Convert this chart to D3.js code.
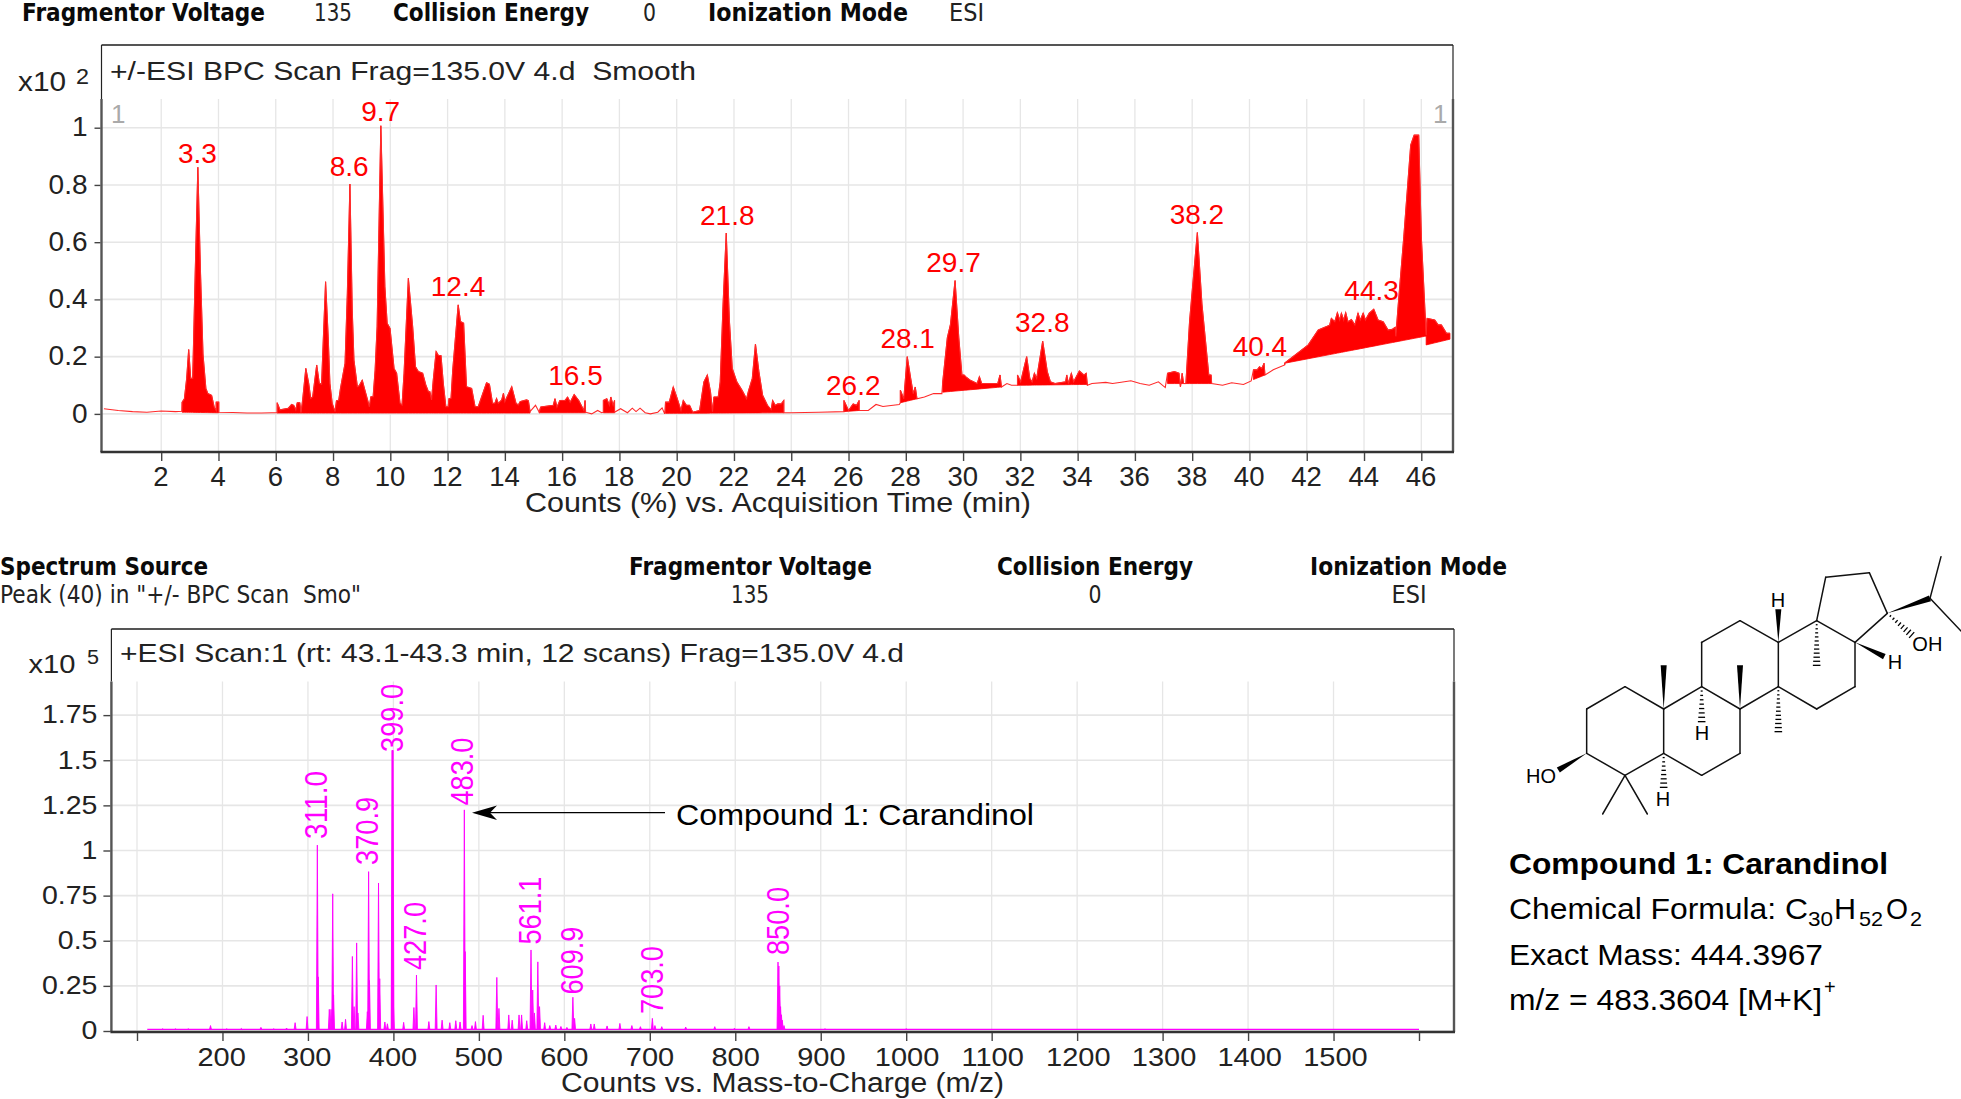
<!DOCTYPE html>
<html><head><meta charset="utf-8">
<style>html,body{margin:0;padding:0;background:#fff;overflow:hidden}svg{display:block}text{white-space:pre}</style>
<script src="https://cdn.jsdelivr.net/npm/d3@7"></script></head><body><svg id="c" width="1961" height="1099"></svg>
<script>
// ---------- DATA ----------
const bpcTicks=[2,4,6,8,10,12,14,16,18,20,22,24,26,28,30,32,34,36,38,40,42,44,46];
const bpcYTicks=[0,0.2,0.4,0.6,0.8,1];
// chromatogram: [minutes, counts x10^2]
const bpcTrace=[[0,.018],[.5,.012],[1,.008],[1.5,.006],[2,.01],[2.5,.008],[2.72,.009],
[2.73,.041],[2.81,.053],[2.89,.124],[2.96,.225],[3.03,.124],[3.1,.124],[3.19,.5],[3.28,.862],[3.37,.5],[3.46,.207],[3.56,.089],[3.63,.071],[3.76,.065],[3.85,.024],[3.92,.012],[3.92,.041],[4.01,.041],[4.01,.006],[4.5,.005],[5,.003],[5.5,.003],[5.85,.004],
[6.05,.004],[6.05,.039],[6.15,.014],[6.44,.02],[6.55,.033],[6.63,.03],[6.7,.014],[6.75,.039],[6.84,.039],[6.88,.004],[6.94,.049],[7.05,.159],[7.15,.107],[7.22,.054],[7.29,.06],[7.43,.171],[7.52,.107],[7.6,.104],[7.74,.462],[7.83,.27],[7.89,.107],[7.97,.037],[8.07,.008],[8.12,.046],[8.2,.048],[8.26,.089],[8.42,.177],[8.5,.421],[8.59,.803],[8.67,.363],[8.73,.188],[8.85,.095],[8.91,.098],[9.02,.118],[9.11,.084],[9.27,.025],[9.32,.06],[9.4,.06],[9.47,.153],[9.54,.305],[9.67,1.007],[9.81,.445],[9.89,.317],[9.99,.299],[10.13,.159],[10.22,.142],[10.34,.037],[10.41,.031],[10.48,.142],[10.63,.474],[10.78,.305],[10.88,.165],[10.98,.148],[11.13,.142],[11.24,.101],[11.33,.078],[11.38,.078],[11.44,.049],[11.5,.118],[11.6,.218],[11.68,.204],[11.77,.204],[11.85,.107],[11.94,.025],[12.02,.025],[12.05,.054],[12.12,.054],[12.18,.153],[12.37,.381],[12.45,.323],[12.56,.317],[12.66,.095],[12.84,.089],[12.96,.025],[13.07,.025],[13.19,.06],[13.36,.109],[13.46,.104],[13.57,.037],[13.65,.037],[13.71,.054],[13.77,.037],[13.89,.049],[13.95,.072],[14,.043],[14.24,.095],[14.39,.037],[14.47,.031],[14.53,.043],[14.64,.046],[14.76,.049],[14.82,.046],[14.88,.008],
[15.07,.03],[15.2,.006],[15.25,.024],[15.69,.03],[15.75,.053],[15.82,.024],[15.92,.047],[16.1,.047],[16.19,.059],[16.28,.041],[16.42,.068],[16.58,.047],[16.76,.012],[16.8,.047],[16.82,.006],
[17.03,0],[17.24,.012],[17.38,.004],[17.44,.006],[17.44,.047],[17.56,.053],[17.65,.03],[17.7,.059],[17.78,.03],[17.83,.047],[17.83,.006],
[18.04,.018],[18.28,.004],[18.45,.02],[18.58,.008],[18.72,.02],[18.9,.004],[19.08,0],[19.34,.006],[19.49,.021],[19.58,0],
[19.61,.041],[19.74,.041],[19.88,.094],[20.02,.053],[20.15,.012],[20.23,.047],[20.34,.03],[20.45,.03],[20.56,.006],[20.8,.012],[20.95,.112],[21.07,.136],[21.18,.077],[21.25,.008],[21.3,.059],[21.45,.059],[21.52,.112],[21.62,.384],[21.73,.632],[21.84,.325],[21.94,.159],[22.1,.112],[22.28,.083],[22.44,.053],[22.51,.081],[22.64,.124],[22.75,.244],[22.87,.148],[23,.065],[23.17,.03],[23.3,.015],[23.35,.047],[23.44,.03],[23.53,.035],[23.65,.035],[23.74,.047],[23.74,.004],
[24,.004],[24.96,.006],[25.84,.008],[25.84,.047],[26,.012],[26.16,.035],[26.28,.03],[26.37,.047],[26.37,.012],[26.69,.012],[26.96,.033],[27.2,.026],[27.77,.033],[27.81,.039],
[27.81,.083],[27.93,.053],[28.05,.2],[28.17,.124],[28.26,.071],[28.33,.094],[28.39,.053],[28.65,.059],[28.97,.071],[29.26,.071],
[29.29,.112],[29.45,.266],[29.56,.313],[29.72,.466],[29.85,.266],[29.96,.136],[30.04,.136],[30.09,.13],[30.25,.118],[30.49,.106],[30.57,.13],[30.65,.106],[31.21,.106],[31.29,.136],[31.34,.094],[31.53,.106],[31.69,.1],[31.9,.1],
[31.9,.136],[32.01,.112],[32.22,.2],[32.33,.124],[32.41,.112],[32.49,.142],[32.57,.124],[32.78,.254],[32.94,.148],[33.05,.112],[33.21,.106],[33.58,.112],[33.62,.136],[33.68,.106],[33.78,.142],[33.86,.112],[34.06,.15],[34.22,.136],[34.3,.142],[34.34,.1],
[34.5,.106],[34.98,.11],[35.22,.106],[35.46,.11],[35.86,.116],[36.18,.106],[36.5,.1],[36.82,.112],[37.06,.092],
[37.14,.142],[37.38,.148],[37.54,.142],[37.59,.094],[37.65,.142],[37.7,.106],[37.78,.106],[37.91,.325],[38.18,.634],[38.34,.384],[38.58,.136],[38.66,.136],[38.68,.106],
[39.06,.1],[39.38,.109],[39.79,.103],[40.06,.115],[40.14,.154],[40.27,.154],[40.35,.165],[40.43,.159],[40.51,.177],[40.54,.136],[40.83,.154],[41.23,.171],
[41.23,.178],[42.05,.241],[42.4,.293],[42.8,.31],[42.86,.334],[42.98,.322],[43.07,.354],[43.15,.328],[43.21,.352],[43.29,.328],[43.36,.354],[43.44,.322],[43.56,.33],[43.68,.311],[43.79,.352],[43.87,.328],[43.97,.352],[44.05,.328],[44.18,.352],[44.34,.366],[44.49,.328],[44.67,.322],[44.84,.293],[44.99,.296],[45.09,.303],[45.11,.271],[45.19,.375],[45.39,.62],[45.63,.939],[45.75,.974],[45.91,.974],[46,.62],[46.12,.375],[46.17,.276],[46.2,.334],[46.47,.328],[46.59,.311],[46.7,.311],[46.88,.282],[47,.282]];
// integrated peak regions: start, end, baseline at start, baseline at end
const fillStart=[2.73,6.05,15.2,17.44,19.61,25.84,27.81,29.29,31.9,37.14,40.14,41.23,46.17];
const fillEnd=[4.01,14.88,16.82,17.83,23.74,26.37,28.39,31.34,34.34,38.68,40.54,46.17,47];
const fillBase0=[.006,.003,.004,.004,.002,.008,.039,.076,.1,.106,.12,.177,.241];
const fillBase1=[.004,.003,.004,.004,.004,.012,.053,.094,.103,.106,.136,.272,.261];
const bpcLabels=["3.3","8.6","9.7","12.4","16.5","21.8","26.2","28.1","29.7","32.8","38.2","40.4","44.3"];
const bpcLabelLevel=[.877,.832,1.022,.412,.101,.66,.067,.23,.496,.286,.664,.202,.398];

const msTicks=[100,200,300,400,500,600,700,800,900,1000,1100,1200,1300,1400,1500,1600];
const msYTicks=[0,.25,.5,.75,1,1.25,1.5,1.75];
const stickMz=[130,145,160,186,205,222,245,260,275,285,299,311,312,325,327,329,330,340,344,352,354,357,358.5,369.5,371,372,382.6,384,390,393,398.5,399,399.5,400,412,424,427,441.5,450,457,466,473,478,483,484,492,496,505,521,523.5,535,539,547,550,556,561,563,565,569,571,577,583,590,596,603,610,612,631,635,650,665,679,689,703,706,714,742,776,799,816,850,851,852,853,854,855,857,905,1000];
const stickInt=[.012,.012,.012,.03,.012,.014,.02,.012,.016,.046,.08,1.03,.3,.12,.12,.76,.2,.05,.065,.413,.135,.488,.1,.107,.883,.28,.82,.29,.05,.04,1.555,1.555,1.555,.15,.048,.13,.31,.052,.255,.06,.046,.057,.05,1.225,.44,.03,.052,.087,.297,.125,.089,.06,.089,.089,.057,.449,.227,.1,.383,.135,.046,.03,.033,.025,.02,.187,.07,.039,.039,.028,.042,.03,.024,.07,.03,.024,.022,.024,.015,.024,.382,.36,.25,.135,.09,.06,.03,.012,.012];
const msLabels=["311.0","370.9","399.0","427.0","483.0","561.1","609.9","703.0","850.0"];
const msLabelLevel=[1.064,.92,1.546,.338,1.249,.479,.202,.094,.421];
const msLabelMz=[310,369,398,426,481,559.5,609,703,850];
const msBaseRange=[112,1600];
const msBaseLevel=.009;

// skeletal formula, atom positions in drawing units
const atoms={a:[320,640],b:[320,507],c:[435,440],d:[551,507],e:[551,640],f:[435,706],g:[665,706],h:[780,640],i:[780,507],j:[665,440],k:[895,440],l:[895,307],m:[780,242],n:[665,307],o:[1010,242],p:[1125,307],q:[1125,440],r:[1010,507],s:[1222,220],t:[1168,98],u:[1037,112],v:[1350,175],me1:[368,822],me2:[502,822],me3:[1383,50],me4:[1443,273],
 w1:[235,690],w2:[551,376],w3:[780,376],w4:[895,208],w5:[1213,350],h1:[665,545],h2:[551,742],h3:[895,575],h4:[1010,376],h5:[1295,285]};
const plainBonds=["ab","bc","cd","de","ef","fa","eg","gh","hi","ij","jd","jn","nm","ml","lk","ki","lo","op","pq","qr","rk","ps","st","tu","uo"];
const plainExtra=[["f","me1"],["f","me2"],["v","me3"],["v","me4"]];
const wedgeBonds=[["a","w1"],["d","w2"],["i","w3"],["l","w4"],["p","w5"],["s","v"]];
const hashBonds=[["j","h1"],["e","h2"],["k","h3"],["o","h4"],["s","h5"]];
const atomLabels=[["HO",183,730],["H",666,600],["H",549,798],["H",894,202],["H",1245,388],["OH",1342,332]];

// ---------- DRAW ----------
const svg=d3.select("#c");
const SANS="'Liberation Sans',Arial,sans-serif", HEAD="'DejaVu Sans',sans-serif";
function T(g,x,y,s,o={}){
 const t=g.append("text").attr("x",x).attr("y",y).text(s)
  .attr("font-family",o.font||SANS).attr("font-size",o.size||26).attr("fill",o.fill||"#222")
  .attr("text-anchor",o.anchor||"start").attr("font-weight",o.weight||"normal");
 if(o.len){t.attr("textLength",o.len).attr("lengthAdjust","spacingAndGlyphs");}
 return t;
}
// headers
const hdr=svg.append("g");
const H=(x,y,s,len,w,anchor)=>T(hdr,x,y,s,{font:HEAD,size:25,weight:w?"bold":"normal",fill:w?"#0a0a0a":"#222",len,anchor});
H(22,21,"Fragmentor Voltage",243,1);H(314,21,"135",38,0);H(393,21,"Collision Energy",196,1);H(643,21,"0",13,0);H(708,21,"Ionization Mode",200,1);H(949,21,"ESI",35,0);
H(0,575,"Spectrum Source",208,1);H(0,603,'Peak (40) in "+/- BPC Scan  Smo"',361,0);
H(629,575,"Fragmentor Voltage",243,1);H(750,603,"135",38,0,"middle");H(997,575,"Collision Energy",196,1);H(1095,603,"0",13,0,"middle");H(1310,575,"Ionization Mode",197,1);H(1409,603,"ESI",35,0,"middle");

// ---- BPC panel
const P1={l:101.5,r:1453,t:45,b:452,pt:99};
const x1=d3.scaleLinear().domain([2,46]).range([161.2,1421.3]);
const y1=d3.scaleLinear().domain([0,1]).range([413.9,127.7]);
const g1=svg.append("g");
const grid=(g,xs,ys,x,y,P)=>{
 g.append("g").selectAll("line").data(xs).join("line").attr("x1",x).attr("x2",x).attr("y1",P.pt).attr("y2",P.b).attr("stroke","#e6e6e6").attr("stroke-width",1.3);
 g.append("g").selectAll("line").data(ys).join("line").attr("x1",P.l).attr("x2",P.r).attr("y1",y).attr("y2",y).attr("stroke","#e6e6e6").attr("stroke-width",1.6);
};
grid(g1,bpcTicks,bpcYTicks,d=>x1(d),d=>y1(d),P1);
fillStart.forEach((s,i)=>{
 const e=fillEnd[i],b=d3.scaleLinear().domain([s,e]).range([fillBase0[i],fillBase1[i]]);
 const pts=bpcTrace.filter(d=>d[0]>=s&&d[0]<=e);
 g1.append("path").attr("fill","#ff0000").attr("stroke","#ff0000").attr("stroke-width",.8).attr("d",d3.area().x(d=>x1(d[0])).y0(d=>y1(b(d[0]))).y1(d=>y1(d[1]))(pts));
});
g1.append("path").attr("fill","none").attr("stroke","#ff2a2a").attr("stroke-width",1.1)
 .attr("d",d3.line().x(d=>x1(d[0])).y(d=>y1(d[1]))(bpcTrace));
function frame(g,P){
 g.append("line").attr("x1",P.l).attr("x2",P.r).attr("y1",P.t).attr("y2",P.t).attr("stroke","#555").attr("stroke-width",2);
 g.append("line").attr("x1",P.l).attr("x2",P.l).attr("y1",P.t).attr("y2",P.pt).attr("stroke","#222").attr("stroke-width",1.2);
 g.append("line").attr("x1",P.r).attr("x2",P.r).attr("y1",P.t).attr("y2",P.pt).attr("stroke","#222").attr("stroke-width",1.2);
 g.append("line").attr("x1",P.l).attr("x2",P.l).attr("y1",P.pt).attr("y2",P.b).attr("stroke","#555").attr("stroke-width",2.4);
 g.append("line").attr("x1",P.r).attr("x2",P.r).attr("y1",P.pt).attr("y2",P.b).attr("stroke","#555").attr("stroke-width",2.4);
 g.append("line").attr("x1",P.l-1).attr("x2",P.r+1).attr("y1",P.b).attr("y2",P.b).attr("stroke","#333").attr("stroke-width",2.4);
}
frame(g1,P1);
// axes
function axisStyle(sel,sx,size){
 sel.select(".domain").remove();
 sel.selectAll(".tick line").attr("stroke","#444").attr("stroke-width",1.4);
 sel.selectAll(".tick text").attr("font-family",SANS).attr("font-size",size).attr("fill","#222");
 sel.selectAll(".tick text").attr("transform",`scale(${sx},1)`);
}
const ax1=g1.append("g").attr("transform",`translate(0,${P1.b+1})`).call(d3.axisBottom(x1).tickValues(bpcTicks).tickSize(8).tickPadding(0).tickFormat(String));
axisStyle(ax1,1,27.5);ax1.selectAll(".tick text").attr("dy",0).attr("y",33).attr("x",-.8);
const ay1=g1.append("g").attr("transform",`translate(${P1.l-1},0)`).call(d3.axisLeft(y1).tickValues(bpcYTicks).tickSize(6).tickFormat(String));
axisStyle(ay1,1,28);ay1.selectAll(".tick text").attr("x",-13).attr("dy","0.29em");
T(g1,110,80,"+/-ESI BPC Scan Frag=135.0V 4.d  Smooth",{size:26,len:586});
T(g1,18,90.5,"x10",{size:27,len:48});T(g1,76,84,"2",{size:22,len:13});
T(g1,111,123,"1",{size:26,fill:"#aaa"});T(g1,1433,123,"1",{size:26,fill:"#aaa"});
T(g1,525,512,"Counts (%) vs. Acquisition Time (min)",{size:28,len:506});
g1.append("g").selectAll("text").data(bpcLabels).join("text")
 .attr("text-anchor","middle").attr("font-family",SANS).attr("font-size",28).attr("fill","#ff0000")
 .attr("transform",(d,i)=>`translate(${x1(+d)-1},${y1(bpcLabelLevel[i])})`).text(d=>d);

// ---- MS panel
const P2={l:111.4,r:1454,t:629,b:1032,pt:681.5};
const x2=d3.scaleLinear().domain([100,1600]).range([137,1419]);
const y2=d3.scaleLinear().domain([0,1]).range([1031,850.5]);
const g2=svg.append("g");
grid(g2,msTicks.slice(0,-1),msYTicks,d=>x2(d),d=>y2(d),P2);
const MAG="#ff00ff";
g2.append("path").attr("fill","none").attr("stroke",MAG).attr("stroke-width",1.2)
 .attr("d",d3.line().x(d=>x2(d)).y(()=>y2(msBaseLevel))(msBaseRange));
const stickPts=stickMz.map((m,i)=>[[m-1.1,msBaseLevel],[m,stickInt[i]],[m+1.1,msBaseLevel]]);
g2.append("g").selectAll("path").data(stickPts).join("path").attr("fill",MAG).attr("stroke",MAG).attr("stroke-width",.9)
 .attr("d",d3.line().x(d=>x2(d[0])).y(d=>y2(d[1])));
frame(g2,P2);
const ax2=g2.append("g").attr("transform",`translate(0,${P2.b+1})`).call(d3.axisBottom(x2).tickValues(msTicks).tickSize(8).tickFormat(d=>(d===100||d===1600)?"":String(d)));
axisStyle(ax2,1.16,25);ax2.selectAll(".tick text").attr("dy",0).attr("y",33).attr("x",(d)=>(d-850)*0.0018);
const ay2=g2.append("g").attr("transform",`translate(${P2.l-1},0)`).call(d3.axisLeft(y2).tickValues(msYTicks).tickSize(7).tickFormat(String));
axisStyle(ay2,1.14,25);ay2.selectAll(".tick text").attr("x",-13/1.14).attr("dy","0.31em");
T(g2,120,662,"+ESI Scan:1 (rt: 43.1-43.3 min, 12 scans) Frag=135.0V 4.d",{size:26,len:784});
T(g2,28.5,672.6,"x10",{size:25,len:47});T(g2,87,664,"5",{size:20,len:12});
T(g2,561,1092,"Counts vs. Mass-to-Charge (m/z)",{size:27,len:443});
g2.append("g").selectAll("text").data(msLabels).join("text")
 .attr("font-family",SANS).attr("font-size",31).attr("fill",MAG).attr("dy","0.35em")
 .attr("textLength",68).attr("lengthAdjust","spacingAndGlyphs")
 .attr("transform",(d,i)=>`translate(${x2(msLabelMz[i])},${y2(msLabelLevel[i])}) rotate(-90)`).text(d=>d);
// arrow annotation
const ann=svg.append("g");
ann.append("path").attr("fill","none").attr("stroke","#000").attr("stroke-width",1.3).attr("d",d3.line()([[665,812.7],[485,812.7]]));
ann.append("path").attr("fill","#000").attr("d",d3.line()([[472,812.7],[497,805.5],[490,812.7],[497,820]])+"Z");
T(ann,676,824.5,"Compound 1: Carandinol",{size:30,fill:"#000",len:358});

// ---- structure
const mx=d3.scaleLinear().domain([0,3]).range([1480,1481]),my=d3.scaleLinear().domain([0,3]).range([540,541]);
const px=k=>[mx(atoms[k][0]),my(atoms[k][1])];
const st=svg.append("g");
const bondPairs=plainBonds.map(b=>[b[0],b[1]]).concat(plainExtra);
st.append("g").selectAll("line").data(bondPairs).join("line")
 .attr("x1",d=>px(d[0])[0]).attr("y1",d=>px(d[0])[1]).attr("x2",d=>px(d[1])[0]).attr("y2",d=>px(d[1])[1])
 .attr("stroke","#111").attr("stroke-width",1.5).attr("stroke-linecap","round");
st.append("g").selectAll("path").data(wedgeBonds).join("path").attr("fill","#000").attr("d",d=>{
 const A=px(d[0]),B=px(d[1]),dx=B[0]-A[0],dy=B[1]-A[1],L=Math.hypot(dx,dy),nx=-dy/L*3,ny=dx/L*3;
 return d3.line()([A,[B[0]+nx,B[1]+ny],[B[0]-nx,B[1]-ny]])+"Z";});
hashBonds.forEach(d=>{
 const A=px(d[0]),B=px(d[1]),dx=B[0]-A[0],dy=B[1]-A[1],L=Math.hypot(dx,dy),n=Math.round(L/4.2);
 d3.range(1,n+1).forEach(i=>{const f=i/n,cx=A[0]+dx*f,cy=A[1]+dy*f,w=.6+3.2*f,nx=-dy/L*w,ny=dx/L*w;
  st.append("line").attr("x1",cx-nx).attr("y1",cy-ny).attr("x2",cx+nx).attr("y2",cy+ny).attr("stroke","#000").attr("stroke-width",1.3);});
});
atomLabels.forEach(a=>T(st,mx(a[1]),my(a[2]),a[0],{size:20,fill:"#000",anchor:"middle"}));

// ---- compound text
const tx=svg.append("g");
T(tx,1509,874,"Compound 1: Carandinol",{size:30,weight:"bold",fill:"#000",len:379});
T(tx,1509,919,"Chemical Formula: C",{size:30,fill:"#000",len:299});
[["30",1808,926,21,25],["H",1834,919,30,22],["52",1859,926,21,24],["O",1886,919,30,22],["2",1910,926,21,12]].forEach(r=>T(tx,r[1],r[2],r[0],{size:r[3],fill:"#000",len:r[4]}));
T(tx,1509,965,"Exact Mass: 444.3967",{size:30,fill:"#000",len:314});
T(tx,1509,1010,"m/z = 483.3604 [M+K]",{size:30,fill:"#000",len:313});
T(tx,1824,994,"+",{size:20,fill:"#000"});
</script></body></html>
